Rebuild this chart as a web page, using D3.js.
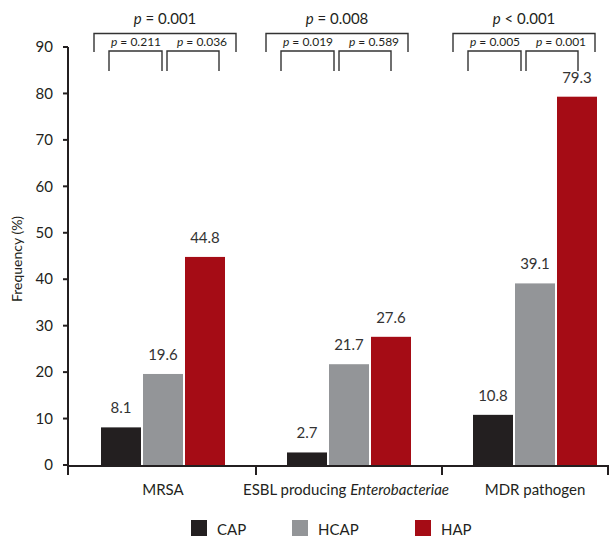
<!DOCTYPE html>
<html>
<head>
<meta charset="utf-8">
<script src="https://cdn.jsdelivr.net/npm/d3@7"></script>
<style>
  body { margin: 0; background: #fff; }
  svg { display: block; font-family: Lato, "Open Sans", sans-serif; }
</style>
</head>
<body>
<div id="chart"></div>
<script>
// Data
const categories = ['MRSA', 'ESBL', 'MDR pathogen'];
const series = ['CAP', 'HCAP', 'HAP'];
const capValues = [8.1, 2.7, 10.8];
const hcapValues = [19.6, 21.7, 39.1];
const hapValues = [44.8, 27.6, 79.3];
const yTicks = [0, 10, 20, 30, 40, 50, 60, 70, 80, 90];
// p values: overall, CAP vs HCAP, HCAP vs HAP
const pOverall = ['p = 0.001', 'p = 0.008', 'p < 0.001'];
const pLeft = ['p = 0.211', 'p = 0.019', 'p = 0.005'];
const pRight = ['p = 0.036', 'p = 0.589', 'p = 0.001'];

const colors = { CAP: '#231f20', HCAP: '#939598', HAP: '#a50c15' };
const ink = '#231f20';

const width = 611, height = 537;
const svg = d3.select('#chart').append('svg')
    .attr('width', width)
    .attr('height', height);

// Scales
const x0 = d3.scaleBand().domain(categories).range([70, 628]);
const x1 = d3.scaleBand().domain(series)
    .range([x0.bandwidth() / 2 - 62, x0.bandwidth() / 2 + 62])
    .paddingInner(2 / 42);
const y = d3.scaleLinear().domain([0, 90]).range([465, 47]);

const rows = categories.map((c, i) => ({
    cat: c,
    values: [
        { s: 'CAP', v: capValues[i] },
        { s: 'HCAP', v: hcapValues[i] },
        { s: 'HAP', v: hapValues[i] }
    ]
}));

// Bars
const groups = svg.selectAll('.group')
    .data(rows)
    .enter()
    .append('g')
    .attr('transform', d => `translate(${x0(d.cat)},0)`);

groups.selectAll('rect')
    .data(d => d.values)
    .enter()
    .append('rect')
    .attr('x', d => x1(d.s))
    .attr('y', d => y(d.v))
    .attr('width', x1.bandwidth())
    .attr('height', d => y(0) - y(d.v))
    .attr('fill', d => colors[d.s]);

groups.selectAll('.val')
    .data(d => d.values)
    .enter()
    .append('text')
    .attr('x', d => x1(d.s) + x1.bandwidth() / 2)
    .attr('y', d => y(d.v) - 14)
    .attr('text-anchor', 'middle')
    .style('font-size', '15px')
    .style('fill', '#333')
    .text(d => d.v.toFixed(1));

// Y axis
const yAxis = svg.append('g').attr('transform', 'translate(68,0)');
yAxis.append('line')
    .attr('x1', 0).attr('x2', 0)
    .attr('y1', y(90)).attr('y2', y(0) + 1)
    .attr('stroke', ink).attr('stroke-width', 2);
yAxis.selectAll('.tick')
    .data(yTicks)
    .enter()
    .append('line')
    .attr('x1', -5).attr('x2', 0)
    .attr('y1', d => y(d)).attr('y2', d => y(d))
    .attr('stroke', ink).attr('stroke-width', 2);
yAxis.selectAll('.lbl')
    .data(yTicks)
    .enter()
    .append('text')
    .attr('x', -15)
    .attr('y', d => y(d))
    .attr('dy', '0.35em')
    .attr('text-anchor', 'end')
    .style('font-size', '15px')
    .style('fill', ink)
    .text(d => d);

svg.append('text')
    .attr('transform', `translate(22,${(y(0) + y(90)) / 2 + 3}) rotate(-90)`)
    .attr('text-anchor', 'middle')
    .style('font-size', '14px')
    .style('fill', ink)
    .text('Frequency (%)');

// X axis
const axisY = y(0) + 1;
const xAxis = svg.append('g');
xAxis.append('line')
    .attr('x1', 68).attr('x2', 609)
    .attr('y1', axisY).attr('y2', axisY)
    .attr('stroke', ink).attr('stroke-width', 2);
const xTicks = [68, x0(categories[1]), x0(categories[2]), 608];
xAxis.selectAll('.tick')
    .data(xTicks)
    .enter()
    .append('line')
    .attr('x1', d => d).attr('x2', d => d)
    .attr('y1', axisY).attr('y2', axisY + 9)
    .attr('stroke', ink).attr('stroke-width', 2);

const catLabels = xAxis.selectAll('.cat')
    .data(categories)
    .enter()
    .append('text')
    .attr('x', d => x0(d) + x0.bandwidth() / 2 - (d === 'ESBL' ? 3 : 0))
    .attr('y', 495)
    .attr('text-anchor', 'middle')
    .style('font-size', '15px')
    .style('fill', ink);
catLabels.each(function (d) {
    const t = d3.select(this);
    if (d === 'ESBL') {
        t.append('tspan').text('ESBL producing ');
        t.append('tspan').style('font-style', 'italic').text('Enterobacteriae');
    } else {
        t.text(d);
    }
});

// Significance brackets
const bracketNudge = [14, 0, 1];
const br = svg.selectAll('.br')
    .data(categories)
    .enter()
    .append('g')
    .attr('transform', (d, i) => `translate(${x0(d) + x1('CAP') - 21 + bracketNudge[i]},0)`)
    .attr('fill', 'none')
    .attr('stroke', '#333')
    .attr('stroke-width', 1.4);

br.append('path').attr('d', 'M0,52V33.5H142V52');
br.append('path').attr('d', 'M15,71V51H68V71');
br.append('path').attr('d', 'M73,71V51H125V71');

function pText(sel, s, size) {
    sel.each(function (d, i) {
        const t = d3.select(this);
        const parts = s[i].split(' ');
        t.append('tspan').style('font-style', 'italic').text(parts[0]);
        t.append('tspan').text(' ' + parts.slice(1).join(' '));
    });
}

br.append('text')
    .attr('x', 71).attr('y', 24)
    .attr('text-anchor', 'middle')
    .attr('stroke', 'none').attr('fill', ink)
    .style('font-size', '15px')
    .call(pText, pOverall);

br.append('text')
    .attr('x', 42).attr('y', 46)
    .attr('text-anchor', 'middle')
    .attr('stroke', 'none').attr('fill', ink)
    .style('font-size', '12px')
    .call(pText, pLeft);

br.append('text')
    .attr('x', 108).attr('y', 46)
    .attr('text-anchor', 'middle')
    .attr('stroke', 'none').attr('fill', ink)
    .style('font-size', '12px')
    .call(pText, pRight);

// Legend
const legendX = [191, 292, 415];
const legend = svg.selectAll('.leg')
    .data(series)
    .enter()
    .append('g')
    .attr('transform', (d, i) => `translate(${legendX[i]},520)`);
legend.append('rect')
    .attr('width', 16).attr('height', 16)
    .attr('fill', d => colors[d]);
legend.append('text')
    .attr('x', 26).attr('y', 15)
    .style('font-size', '15px')
    .style('fill', ink)
    .text(d => d);
</script>
</body>
</html>
